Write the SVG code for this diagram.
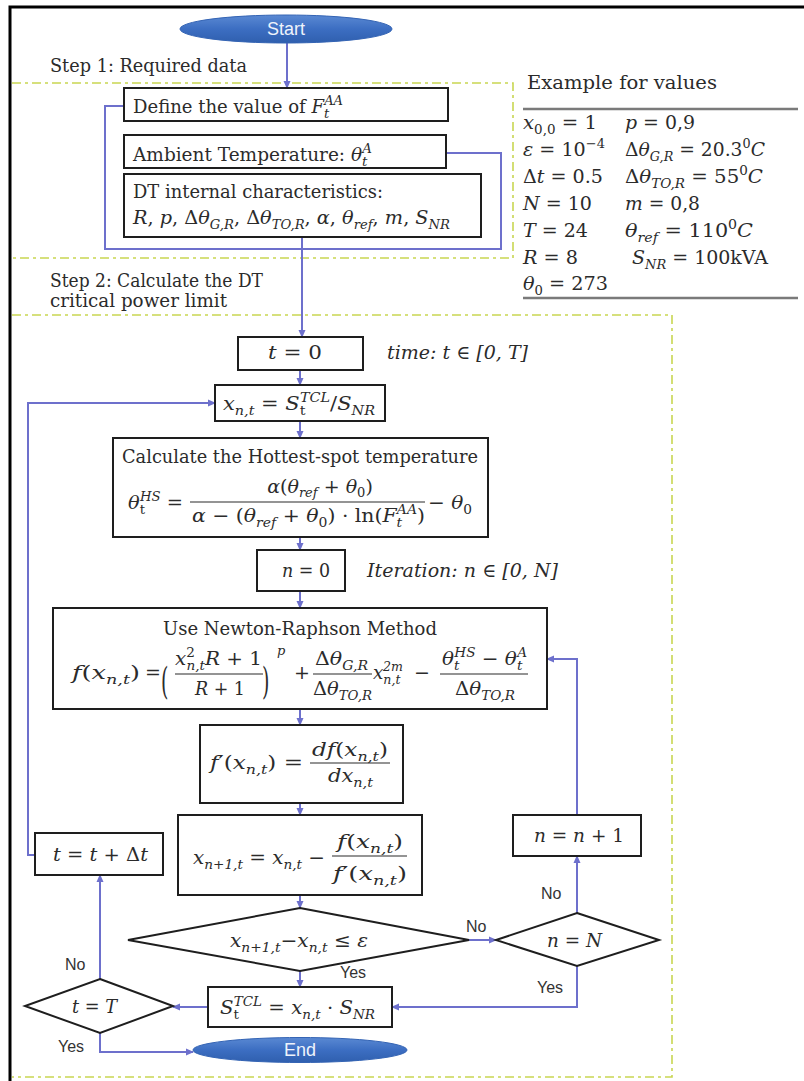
<svg xmlns="http://www.w3.org/2000/svg" width="804" height="1081" viewBox="0 0 804 1081">
<defs>
<style>
.box{fill:#fff;stroke:#1e1e1e;stroke-width:2}
.dia{fill:#fff;stroke:#1e1e1e;stroke-width:2}
.t{font-family:"DejaVu Serif","Liberation Serif",serif;font-size:18px;fill:#2b2b2b}
.m{font-family:"DejaVu Serif","Liberation Serif",serif;font-size:19px;fill:#2b2b2b}
.i{font-style:italic}
.s{font-size:13px}
.lbl{font-family:"Liberation Sans",Arial,sans-serif;font-size:16px;fill:#333}
.term{font-family:"Liberation Sans",Arial,sans-serif;font-size:18px;fill:#eef3fb}
.con{fill:none;stroke:#6d70cc;stroke-width:2}
.zone{fill:none;stroke:#c9d652;stroke-width:1.6;stroke-dasharray:9 4 3 4}
.rule{stroke:#7a7a7a;stroke-width:2.5}
.frac{stroke:#2b2b2b;stroke-width:1.2}
.frame{stroke:#000;stroke-width:3;fill:none}
</style>
<marker id="ah" markerWidth="8" markerHeight="8" refX="7" refY="4" orient="auto" markerUnits="userSpaceOnUse"><path d="M0,0.5 L8,4 L0,7.5 z" fill="#6d70cc"/></marker>
<linearGradient id="tg" x1="0" y1="0" x2="0" y2="1"><stop offset="0" stop-color="#5a89d3"/><stop offset="0.5" stop-color="#3c6ec2"/><stop offset="1" stop-color="#2f5fae"/></linearGradient>
</defs>
<rect width="804" height="1081" fill="#fff"/>
<path class="frame" d="M10,1081 V7 H804"/>

<g id="zones">
<path class="zone" d="M12,83 H513 V258 H12"/>
<path class="zone" d="M12,315 H672 V1077 H12"/>
</g>

<g id="step-labels">
<text class="t" x="50" y="72" textLength="197" lengthAdjust="spacingAndGlyphs">Step 1: Required data</text>
<text class="t" x="50" y="287" textLength="213" lengthAdjust="spacingAndGlyphs">Step 2: Calculate the DT</text>
<text class="t" x="50" y="307" textLength="177" lengthAdjust="spacingAndGlyphs">critical power limit</text>
</g>

<g id="example">
<text class="t" x="527" y="89" textLength="190" lengthAdjust="spacingAndGlyphs">Example for values</text>
<line class="rule" x1="523" y1="109" x2="798" y2="109"/>
<line class="rule" x1="523" y1="298" x2="798" y2="298"/>
<text class="m" x="523" y="129" textLength="74" lengthAdjust="spacingAndGlyphs"><tspan class="i">x</tspan><tspan class="s" dy="5">0,0</tspan><tspan dy="-5"> = 1</tspan></text>
<text class="m" x="625" y="129" textLength="70" lengthAdjust="spacingAndGlyphs"><tspan class="i">p</tspan> = 0,9</text>
<text class="m" x="523" y="156" textLength="82" lengthAdjust="spacingAndGlyphs"><tspan class="i">ε</tspan> = 10<tspan class="s" dy="-8">−4</tspan></text>
<text class="m" x="625" y="156" textLength="140" lengthAdjust="spacingAndGlyphs">Δ<tspan class="i">θ</tspan><tspan class="s i" dy="5">G,R</tspan><tspan dy="-5"> = 20.3</tspan><tspan class="s" dy="-8">0</tspan><tspan class="i" dy="8">C</tspan></text>
<text class="m" x="523" y="183" textLength="80" lengthAdjust="spacingAndGlyphs">Δ<tspan class="i">t</tspan> = 0.5</text>
<text class="m" x="625" y="183" textLength="138" lengthAdjust="spacingAndGlyphs">Δ<tspan class="i">θ</tspan><tspan class="s i" dy="5">TO,R</tspan><tspan dy="-5"> = 55</tspan><tspan class="s" dy="-8">0</tspan><tspan class="i" dy="8">C</tspan></text>
<text class="m" x="523" y="210" textLength="69" lengthAdjust="spacingAndGlyphs"><tspan class="i">N</tspan> = 10</text>
<text class="m" x="625" y="210" textLength="75" lengthAdjust="spacingAndGlyphs"><tspan class="i">m</tspan> = 0,8</text>
<text class="m" x="523" y="237" textLength="65" lengthAdjust="spacingAndGlyphs"><tspan class="i">T</tspan> = 24</text>
<text class="m" x="625" y="237" textLength="128" lengthAdjust="spacingAndGlyphs"><tspan class="i">θ</tspan><tspan class="s i" dy="5">ref</tspan><tspan dy="-5"> = 110</tspan><tspan class="s" dy="-8">0</tspan><tspan class="i" dy="8">C</tspan></text>
<text class="m" x="523" y="264" textLength="55" lengthAdjust="spacingAndGlyphs"><tspan class="i">R</tspan> = 8</text>
<text class="m" x="632" y="264" textLength="136" lengthAdjust="spacingAndGlyphs"><tspan class="i">S</tspan><tspan class="s i" dy="5">NR</tspan><tspan dy="-5"> = 100kVA</tspan></text>
<text class="m" x="523" y="290" textLength="85" lengthAdjust="spacingAndGlyphs"><tspan class="i">θ</tspan><tspan class="s" dy="5">0</tspan><tspan dy="-5"> = 273</tspan></text>
</g>

<g id="connectors">
<path class="con" d="M287,43 V88" marker-end="url(#ah)"/>
<path class="con" d="M124,106 H105 V249 H501 V153 H446"/>
<path class="con" d="M302,237 V337" marker-end="url(#ah)"/>
<path class="con" d="M300,370 V385" marker-end="url(#ah)"/>
<path class="con" d="M300,421 V438" marker-end="url(#ah)"/>
<path class="con" d="M300,537 V550" marker-end="url(#ah)"/>
<path class="con" d="M300,591 V608" marker-end="url(#ah)"/>
<path class="con" d="M300,709 V725" marker-end="url(#ah)"/>
<path class="con" d="M300,803 V815" marker-end="url(#ah)"/>
<path class="con" d="M300,895 V908" marker-end="url(#ah)"/>
<path class="con" d="M300,971 V987" marker-end="url(#ah)"/>
<path class="con" d="M469,940 H496" marker-end="url(#ah)"/>
<path class="con" d="M577,913 V856" marker-end="url(#ah)"/>
<path class="con" d="M577,815 V659 H547" marker-end="url(#ah)"/>
<path class="con" d="M577,966 V1007 H392" marker-end="url(#ah)"/>
<path class="con" d="M208,1007 H173" marker-end="url(#ah)"/>
<path class="con" d="M100,979 V875" marker-end="url(#ah)"/>
<path class="con" d="M35,855 H28 V403 H215" marker-end="url(#ah)"/>
<path class="con" d="M100,1033 V1052 H193" marker-end="url(#ah)"/>
<text class="lbl" x="340" y="978">Yes</text>
<text class="lbl" x="466" y="932">No</text>
<text class="lbl" x="541" y="899">No</text>
<text class="lbl" x="537" y="993">Yes</text>
<text class="lbl" x="65" y="970">No</text>
<text class="lbl" x="58" y="1052">Yes</text>
</g>

<g id="start">
<ellipse cx="286" cy="29" rx="106" ry="14" fill="url(#tg)" stroke="#3464b4" stroke-width="1"/>
<text class="term" x="286" y="35" text-anchor="middle">Start</text>
</g>

<g id="define-faa">
<rect class="box" x="124" y="88" width="324" height="33"/>
<text class="t" x="133" y="113" textLength="210" lengthAdjust="spacingAndGlyphs">Define the value of <tspan class="i">F</tspan><tspan class="s i" dy="5">t</tspan><tspan class="s i" dx="-5" dy="-13">AA</tspan></text>
</g>

<g id="ambient">
<rect class="box" x="124" y="135" width="322" height="33"/>
<text class="t" x="133" y="161" textLength="239" lengthAdjust="spacingAndGlyphs">Ambient Temperature: <tspan class="i">θ</tspan><tspan class="s i" dy="5">t</tspan><tspan class="s i" dx="-5" dy="-13">A</tspan></text>
</g>

<g id="dt-char">
<rect class="box" x="124" y="174" width="357" height="63"/>
<text class="t" x="133" y="198" textLength="250" lengthAdjust="spacingAndGlyphs">DT internal characteristics:</text>
<text class="m" x="133" y="224" textLength="317" lengthAdjust="spacingAndGlyphs"><tspan class="i">R</tspan>, <tspan class="i">p</tspan>, Δ<tspan class="i">θ</tspan><tspan class="s i" dy="5">G,R</tspan><tspan dy="-5">, Δ</tspan><tspan class="i">θ</tspan><tspan class="s i" dy="5">TO,R</tspan><tspan dy="-5">, </tspan><tspan class="i">α</tspan>, <tspan class="i">θ</tspan><tspan class="s i" dy="5">ref</tspan><tspan dy="-5">, </tspan><tspan class="i">m</tspan>, <tspan class="i">S</tspan><tspan class="s i" dy="5">NR</tspan></text>
</g>

<g id="t0">
<rect class="box" x="238" y="337" width="125" height="33"/>
<text class="m" x="268" y="359" textLength="54" lengthAdjust="spacingAndGlyphs"><tspan class="i">t</tspan> = 0</text>
<text class="m i" x="387" y="359" textLength="141" lengthAdjust="spacingAndGlyphs">time: t ∈ [0, T]</text>
</g>

<g id="x-init">
<rect class="box" x="215" y="385" width="170" height="36"/>
<text class="m" x="223" y="410" textLength="152" lengthAdjust="spacingAndGlyphs"><tspan class="i">x</tspan><tspan class="s i" dy="5">n,t</tspan><tspan dy="-5"> = </tspan><tspan class="i">S</tspan><tspan class="s" dy="5">t</tspan><tspan class="s i" dx="-5" dy="-13">TCL</tspan><tspan dy="8">/</tspan><tspan class="i">S</tspan><tspan class="s i" dy="5">NR</tspan></text>
</g>

<g id="hotspot">
<rect class="box" x="113" y="438" width="375" height="99"/>
<text class="t" x="122" y="463" textLength="356" lengthAdjust="spacingAndGlyphs">Calculate the Hottest-spot temperature</text>
<text class="m" x="128" y="509" textLength="55" lengthAdjust="spacingAndGlyphs"><tspan class="i">θ</tspan><tspan class="s" dy="5">t</tspan><tspan class="s i" dx="-5" dy="-13">HS</tspan><tspan dy="8"> =</tspan></text>
<text class="m" x="320" y="493" font-size="17" text-anchor="middle"><tspan class="i">α</tspan>(<tspan class="i">θ</tspan><tspan class="s i" dy="4">ref</tspan><tspan dy="-4"> + </tspan><tspan class="i">θ</tspan><tspan class="s" dy="4">0</tspan><tspan dy="-4">)</tspan></text>
<line class="frac" x1="190" y1="502" x2="425" y2="502"/>
<text class="m" x="192" y="522" textLength="233" lengthAdjust="spacingAndGlyphs"><tspan class="i">α</tspan> − (<tspan class="i">θ</tspan><tspan class="s i" dy="5">ref</tspan><tspan dy="-5"> + </tspan><tspan class="i">θ</tspan><tspan class="s" dy="5">0</tspan><tspan dy="-5">) · ln(</tspan><tspan class="i">F</tspan><tspan class="s i" dy="5">t</tspan><tspan class="s i" dx="-5" dy="-13">AA</tspan><tspan dy="8">)</tspan></text>
<text class="m" x="428" y="509" textLength="44" lengthAdjust="spacingAndGlyphs">− <tspan class="i">θ</tspan><tspan class="s" dy="5">0</tspan></text>
</g>

<g id="n0">
<rect class="box" x="257" y="550" width="88" height="41"/>
<text class="m" x="282" y="577" textLength="48" lengthAdjust="spacingAndGlyphs"><tspan class="i">n</tspan> = 0</text>
<text class="m i" x="367" y="577" textLength="191" lengthAdjust="spacingAndGlyphs">Iteration: n ∈ [0, N]</text>
</g>

<g id="newton">
<rect class="box" x="53" y="608" width="494" height="101"/>
<text class="t" x="163" y="635" textLength="274" lengthAdjust="spacingAndGlyphs">Use Newton-Raphson Method</text>
<text class="m" x="72" y="679" textLength="68" lengthAdjust="spacingAndGlyphs"><tspan class="i">f</tspan>(<tspan class="i">x</tspan><tspan class="s i" dy="5">n,t</tspan><tspan dy="-5">)</tspan></text>
<text class="m" x="145" y="679">=</text>
<text class="m" font-size="30" transform="translate(161,694) scale(1,2)">(</text>
<text class="m" x="175" y="665" textLength="87" lengthAdjust="spacingAndGlyphs"><tspan class="i">x</tspan><tspan class="s" dy="-8">2</tspan><tspan class="s i" dx="-8" dy="13">n,t</tspan><tspan class="i" dy="-5">R</tspan> + 1</text>
<line class="frac" x1="175" y1="674" x2="263" y2="674"/>
<text class="m" x="195" y="695" textLength="50" lengthAdjust="spacingAndGlyphs"><tspan class="i">R</tspan> + 1</text>
<text class="m" font-size="30" transform="translate(262,694) scale(1,2)">)</text>
<text class="m s i" x="277" y="655">p</text>
<text class="m" x="294" y="679">+</text>
<text class="m" x="315" y="665" textLength="53" lengthAdjust="spacingAndGlyphs">Δ<tspan class="i">θ</tspan><tspan class="s i" dy="5">G,R</tspan></text>
<line class="frac" x1="313" y1="674" x2="372" y2="674"/>
<text class="m" x="313" y="695" textLength="59" lengthAdjust="spacingAndGlyphs">Δ<tspan class="i">θ</tspan><tspan class="s i" dy="5">TO,R</tspan></text>
<text class="m" x="373" y="679" textLength="30" lengthAdjust="spacingAndGlyphs"><tspan class="i">x</tspan><tspan class="s i" dy="5">n,t</tspan><tspan class="s i" dx="-18" dy="-13">2m</tspan></text>
<text class="m" x="414" y="679">−</text>
<text class="m" x="442" y="665" textLength="85" lengthAdjust="spacingAndGlyphs"><tspan class="i">θ</tspan><tspan class="s i" dy="5">t</tspan><tspan class="s i" dx="-5" dy="-13">HS</tspan><tspan dy="8"> − </tspan><tspan class="i">θ</tspan><tspan class="s i" dy="5">t</tspan><tspan class="s i" dx="-5" dy="-13">A</tspan></text>
<line class="frac" x1="440" y1="674" x2="528" y2="674"/>
<text class="m" x="455" y="695" textLength="60" lengthAdjust="spacingAndGlyphs">Δ<tspan class="i">θ</tspan><tspan class="s i" dy="5">TO,R</tspan></text>
</g>

<g id="derivative">
<rect class="box" x="200" y="725" width="203" height="78"/>
<text class="m" x="210" y="769" textLength="93" lengthAdjust="spacingAndGlyphs"><tspan class="i">f</tspan>′(<tspan class="i">x</tspan><tspan class="s i" dy="5">n,t</tspan><tspan dy="-5">) =</tspan></text>
<text class="m" x="312" y="756" textLength="76" lengthAdjust="spacingAndGlyphs"><tspan class="i">df</tspan>(<tspan class="i">x</tspan><tspan class="s i" dy="5">n,t</tspan><tspan dy="-5">)</tspan></text>
<line class="frac" x1="310" y1="763" x2="390" y2="763"/>
<text class="m" x="328" y="782" textLength="45" lengthAdjust="spacingAndGlyphs"><tspan class="i">dx</tspan><tspan class="s i" dy="5">n,t</tspan></text>
</g>

<g id="update">
<rect class="box" x="178" y="815" width="244" height="80"/>
<text class="m" x="193" y="864" textLength="132" lengthAdjust="spacingAndGlyphs"><tspan class="i">x</tspan><tspan class="s i" dy="5">n+1,t</tspan><tspan dy="-5"> = </tspan><tspan class="i">x</tspan><tspan class="s i" dy="5">n,t</tspan><tspan dy="-5"> −</tspan></text>
<text class="m" x="337" y="848" textLength="66" lengthAdjust="spacingAndGlyphs"><tspan class="i">f</tspan>(<tspan class="i">x</tspan><tspan class="s i" dy="5">n,t</tspan><tspan dy="-5">)</tspan></text>
<line class="frac" x1="332" y1="856" x2="407" y2="856"/>
<text class="m" x="333" y="880" textLength="74" lengthAdjust="spacingAndGlyphs"><tspan class="i">f</tspan>′(<tspan class="i">x</tspan><tspan class="s i" dy="5">n,t</tspan><tspan dy="-5">)</tspan></text>
</g>

<g id="converged">
<polygon class="dia" points="300,908 469,940 300,971 128,940"/>
<text class="m" x="230" y="947" textLength="138" lengthAdjust="spacingAndGlyphs"><tspan class="i">x</tspan><tspan class="s i" dy="5">n+1,t</tspan><tspan dy="-5">−</tspan><tspan class="i">x</tspan><tspan class="s i" dy="5">n,t</tspan><tspan dy="-5"> ≤ </tspan><tspan class="i">ε</tspan></text>
</g>

<g id="max-iter">
<polygon class="dia" points="577,913 659,940 577,966 496,940"/>
<text class="m" x="547" y="947" textLength="55" lengthAdjust="spacingAndGlyphs"><tspan class="i">n</tspan> = <tspan class="i">N</tspan></text>
</g>

<g id="n-inc">
<rect class="box" x="513" y="815" width="128" height="41"/>
<text class="m" x="534" y="842" textLength="90" lengthAdjust="spacingAndGlyphs"><tspan class="i">n</tspan> = <tspan class="i">n</tspan> + 1</text>
</g>

<g id="power">
<rect class="box" x="208" y="987" width="184" height="40"/>
<text class="m" x="220" y="1014" textLength="155" lengthAdjust="spacingAndGlyphs"><tspan class="i">S</tspan><tspan class="s" dy="5">t</tspan><tspan class="s i" dx="-5" dy="-13">TCL</tspan><tspan dy="8"> = </tspan><tspan class="i">x</tspan><tspan class="s i" dy="5">n,t</tspan><tspan dy="-5"> · </tspan><tspan class="i">S</tspan><tspan class="s i" dy="5">NR</tspan></text>
</g>

<g id="time-end">
<polygon class="dia" points="100,979 173,1006 100,1033 25,1006"/>
<text class="m" x="72" y="1013" textLength="45" lengthAdjust="spacingAndGlyphs"><tspan class="i">t</tspan> = <tspan class="i">T</tspan></text>
</g>

<g id="t-inc">
<rect class="box" x="35" y="833" width="128" height="42"/>
<text class="m" x="53" y="861" textLength="95" lengthAdjust="spacingAndGlyphs"><tspan class="i">t</tspan> = <tspan class="i">t</tspan> + Δ<tspan class="i">t</tspan></text>
</g>

<g id="end">
<ellipse cx="300" cy="1050" rx="107" ry="12.5" fill="url(#tg)" stroke="#3464b4" stroke-width="1"/>
<text class="term" x="300" y="1056" text-anchor="middle">End</text>
</g>
</svg>
